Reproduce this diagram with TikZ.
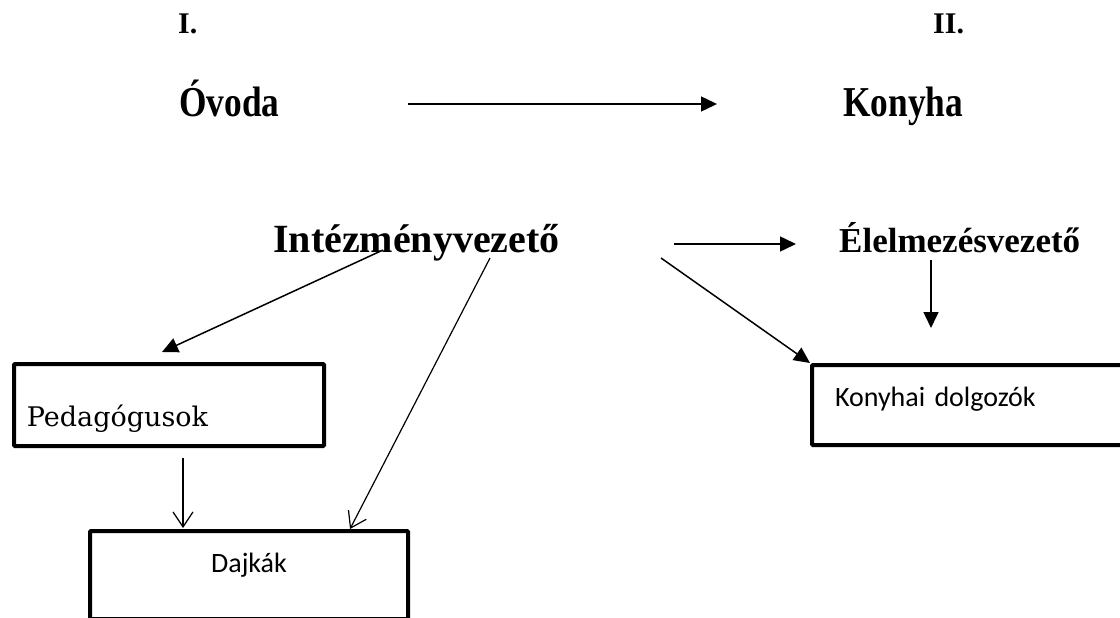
\documentclass[tikz,border=0pt]{standalone}
\usepackage{fontspec}
\setmainfont{Liberation Serif}
\newfontfamily\boxserif{DejaVu Serif}
\newfontfamily\boxsans{Carlito}
\usetikzlibrary{arrows.meta,positioning,calc}

\begin{document}
\begin{tikzpicture}[x=1pt,y=-1pt,
		title node/.style={inner sep=0, anchor=base west, xscale=0.93, yscale=1.12, transform shape, font=\bfseries\fontsize{38}{46}\selectfont},
		num node/.style={inner sep=0, anchor=base west, font=\bfseries\fontsize{30}{36}\selectfont},
		head node/.style={inner sep=0, anchor=base west, font=\bfseries\fontsize{40}{48}\selectfont},
		box node/.style={draw, line width=4pt, rounded corners=1pt, inner ysep=0, anchor=north west},
		tri arrow/.style={line width=1.5pt, -{Triangle[length=16pt,width=15pt]}},
		barb arrow/.style={line width=1.2pt, -{Straight Barb[length=15pt,width=20pt,line width=1.2pt]}}]

	\useasboundingbox (0,0) rectangle (1120,618);

	% headings
	\node[num node] (I) at (178,34) {I.};
	\node[num node] (II) at (933,34) {II.};
	\node[title node] (ovoda) at (179,117) {Óvoda};
	\node[title node] (konyha) at (843,117) {Konyha};
	\node[head node] (intezmeny) at (273,252) {Intézményvezető};
	\node[head node, font=\bfseries\fontsize{35}{42}\selectfont] (elelmezes) at (839,252) {Élelmezésvezető};

	% boxes
	\node[box node, inner xsep=13pt, text width=284pt, text height=62pt, text depth=20pt, align=left,
		font=\boxserif\fontsize{27}{32}\selectfont] (pedagogusok) at (12,362) {Pedagógusok};
	\node[box node, inner xsep=0pt, text width=318pt, text height=41pt, text depth=47pt, align=center,
		font=\boxsans\fontsize{28}{32}\selectfont] (dajkak) at (88,529) {Dajkák};
	\node[box node, inner xsep=23pt, text width=297pt, text height=41pt, text depth=39pt, align=left,
		font=\boxsans\fontsize{28}{32}\selectfont] (konyhai) at (810,363) {Konyhai dolgozók};

	% arrow ends
	\coordinate (ov-out) at ([shift={(229,-13)}]ovoda.base west);
	\coordinate (ko-in) at ([shift={(-126,-13)}]konyha.base west);
	\coordinate (iv-out1) at ([shift={(110,-2)}]intezmeny.base west);
	\coordinate (iv-out2) at ([shift={(217,6)}]intezmeny.base west);
	\coordinate (iv-out3) at ([shift={(401,-8)}]intezmeny.base west);
	\coordinate (iv-out4) at ([shift={(388,6)}]intezmeny.base west);
	\coordinate (el-in) at ([shift={(-43,-8)}]elelmezes.base west);
	\coordinate (el-out) at ([shift={(92,8)}]elelmezes.base west);
	\coordinate (el-end) at ([shift={(92,76)}]elelmezes.base west);
	\coordinate (pe-in) at ([shift={(150,-10)}]pedagogusok.north west);
	\coordinate (pe-out) at ([shift={(171,96)}]pedagogusok.north west);
	\coordinate (da-in1) at ([shift={(95,-1)}]dajkak.north west);
	\coordinate (da-in2) at ([shift={(262,0)}]dajkak.north west);

	\path	(ov-out)	edge[tri arrow] (ko-in);
	\path	(iv-out3)	edge[tri arrow] (el-in);
	\path	(el-out)	edge[tri arrow] (el-end);
	\path	(iv-out4)	edge[tri arrow] (konyhai.north west);
	\path	(iv-out1)	edge[tri arrow] (pe-in);
	\path	(iv-out2)	edge[barb arrow] (da-in2);
	\path	(pe-out)	edge[barb arrow] (da-in1);
\end{tikzpicture}
\end{document}
